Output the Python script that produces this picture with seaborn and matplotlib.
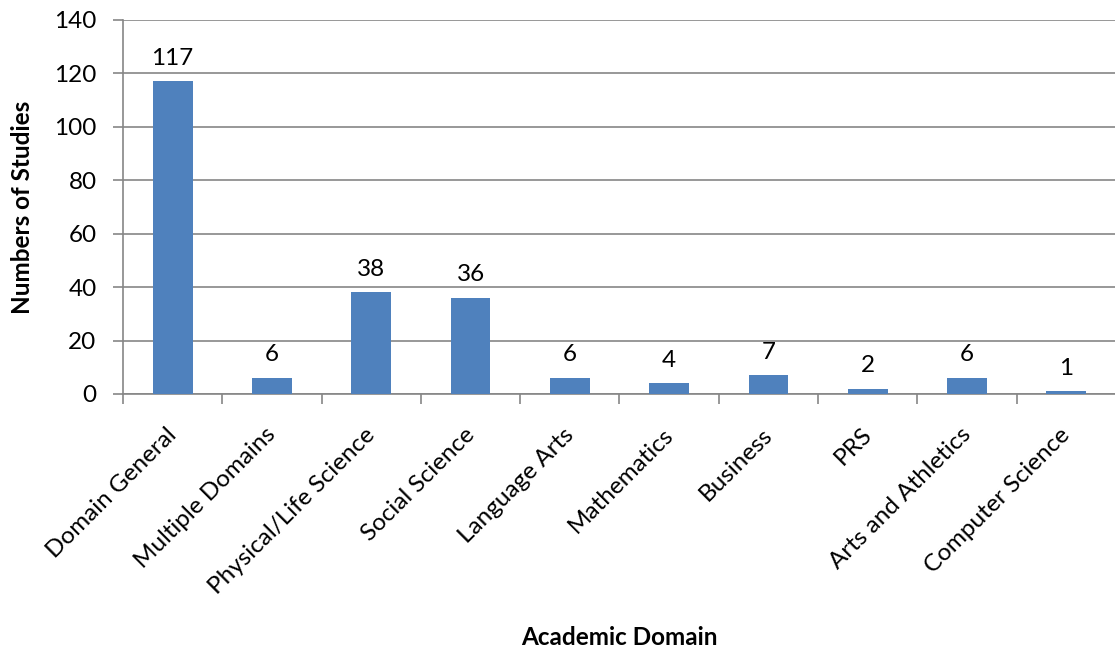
import matplotlib
matplotlib.use("Agg")
import matplotlib.pyplot as plt
import matplotlib.transforms as mtransforms
import seaborn as sns
import pandas as pd

# Number of studies per academic domain
domains = [
    "Domain General", "Multiple Domains", "Physical/Life Science",
    "Social Science", "Language Arts", "Mathematics", "Business",
    "PRS", "Arts and Athletics", "Computer Science",
]
studies = [117, 6, 38, 36, 6, 4, 7, 2, 6, 1]
y_ticks = [0, 20, 40, 60, 80, 100, 120, 140]

df = pd.DataFrame({"domain": domains, "studies": studies})

sns.set_theme(style="white")
plt.rcParams["font.family"] = ["Lato", "DejaVu Sans"]
plt.rcParams["text.color"] = "black"
plt.rcParams["xtick.color"] = "black"
plt.rcParams["ytick.color"] = "black"
plt.rcParams["axes.labelcolor"] = "black"

grid_color = "#868686"
bar_color = "#4F81BD"
fs = 17.5

fig = plt.figure(figsize=(11.15, 6.5), dpi=100)
ax = fig.add_axes([123 / 1115, 1 - 394 / 650, 993 / 1115, 374 / 650])

sns.barplot(data=df, x="domain", y="studies", color=bar_color,
            width=0.4, saturation=1, linewidth=0, ax=ax, zorder=3)

ax.set_ylim(0, 140)
ax.set_xlim(-0.5, len(domains) - 0.5)
ax.set_yticks(y_ticks)
ax.yaxis.grid(True, color=grid_color, linewidth=1.2, zorder=0)
ax.set_axisbelow(True)

for side in ["top", "right"]:
    ax.spines[side].set_visible(False)
for side in ["left", "bottom"]:
    ax.spines[side].set_color(grid_color)
    ax.spines[side].set_linewidth(1.2)

# Tick marks at category boundaries on x, outward on y
ax.set_xticks([i - 0.5 for i in range(len(domains) + 1)], minor=True)
ax.tick_params(axis="x", which="minor", bottom=True, length=7,
               color=grid_color, width=1.2)
ax.tick_params(axis="x", which="major", bottom=False, pad=4)
ax.tick_params(axis="y", left=True, length=7, color=grid_color, width=1.2,
               labelsize=fs, labelcolor="black", pad=12)

ax.set_xticks(range(len(domains)))
ax.set_xticklabels(domains, rotation=45, ha="right", rotation_mode="anchor",
                   fontsize=fs, color="black")
shift = mtransforms.ScaledTranslation(-0.07, -0.16, fig.dpi_scale_trans)
for lbl in ax.get_xticklabels():
    lbl.set_transform(lbl.get_transform() + shift)

for container in ax.containers:
    ax.bar_label(container, labels=[str(v) for v in studies], padding=9,
                 fontsize=fs, color="black")

ax.set_xlabel("Academic Domain", fontsize=fs, fontweight="bold",
              va="baseline")
ax.xaxis.set_label_coords(0.5, -0.671)
ax.set_ylabel("Numbers of Studies", fontsize=fs, fontweight="bold")
ax.yaxis.set_label_coords(-0.09, 0.5)

fig.savefig("out.png", dpi=100)
